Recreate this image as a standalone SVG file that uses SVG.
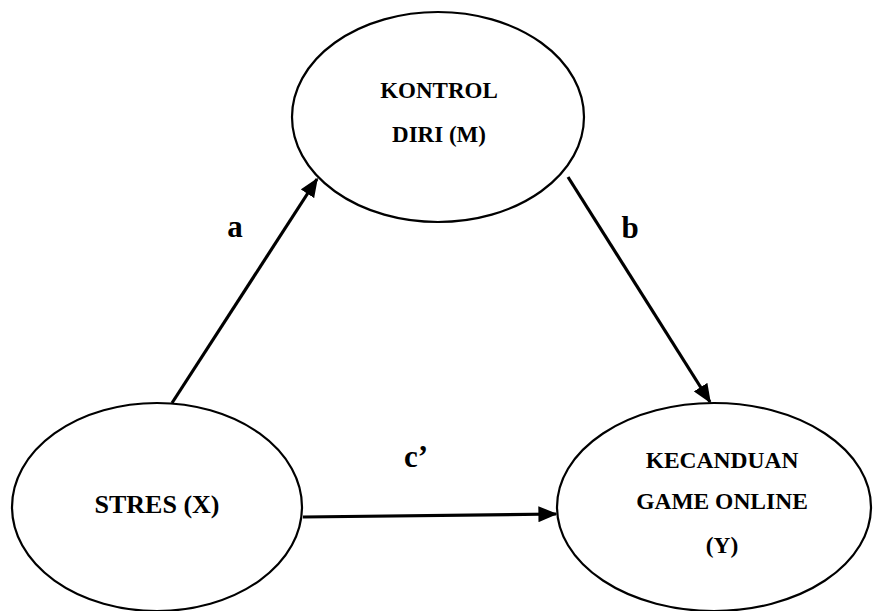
<svg xmlns="http://www.w3.org/2000/svg" width="875" height="611" viewBox="0 0 875 611">
<style>
.node ellipse{fill:#fff;stroke:#000;stroke-width:2.2}
.t{font-family:"Liberation Serif","Times New Roman",serif;font-weight:bold;fill:#000;text-anchor:middle}
.lbl{font-family:"Liberation Serif","Times New Roman",serif;font-weight:bold;fill:#000;text-anchor:middle;font-size:31px}
.edge{stroke:#000;stroke-width:3.2;fill:none;marker-end:url(#ah)}
</style>
<defs>
<marker id="ah" markerWidth="6" markerHeight="5" refX="5.5" refY="2.5" orient="auto" markerUnits="strokeWidth">
<path d="M0,0 L6,2.5 L0,5 z" fill="#000"/>
</marker>
</defs>
<rect width="875" height="611" fill="#fff"/>
<g id="node-m" class="node">
<ellipse cx="438" cy="117" rx="146" ry="105"/>
<text class="t" x="439" y="98" font-size="23">KONTROL</text>
<text class="t" x="439" y="142" font-size="23">DIRI (M)</text>
</g>
<g id="node-x" class="node">
<ellipse cx="157" cy="507" rx="145" ry="104"/>
<text class="t" x="157" y="513" font-size="26">STRES (X)</text>
</g>
<g id="node-y" class="node">
<ellipse cx="714" cy="507" rx="157" ry="104"/>
<text class="t" x="722" y="468" font-size="23.5">KECANDUAN</text>
<text class="t" x="722" y="509" font-size="23.5">GAME ONLINE</text>
<text class="t" x="722" y="553" font-size="23.5">(Y)</text>
</g>
<g id="connectors">
<line class="edge" x1="172" y1="403" x2="317" y2="179"/>
<line class="edge" x1="568" y1="177" x2="710" y2="402"/>
<line class="edge" x1="303" y1="517" x2="556" y2="514"/>
<text class="lbl" x="235" y="237">a</text>
<text class="lbl" x="630" y="238">b</text>
<text class="lbl" x="416" y="467">c’</text>
</g>
</svg>
